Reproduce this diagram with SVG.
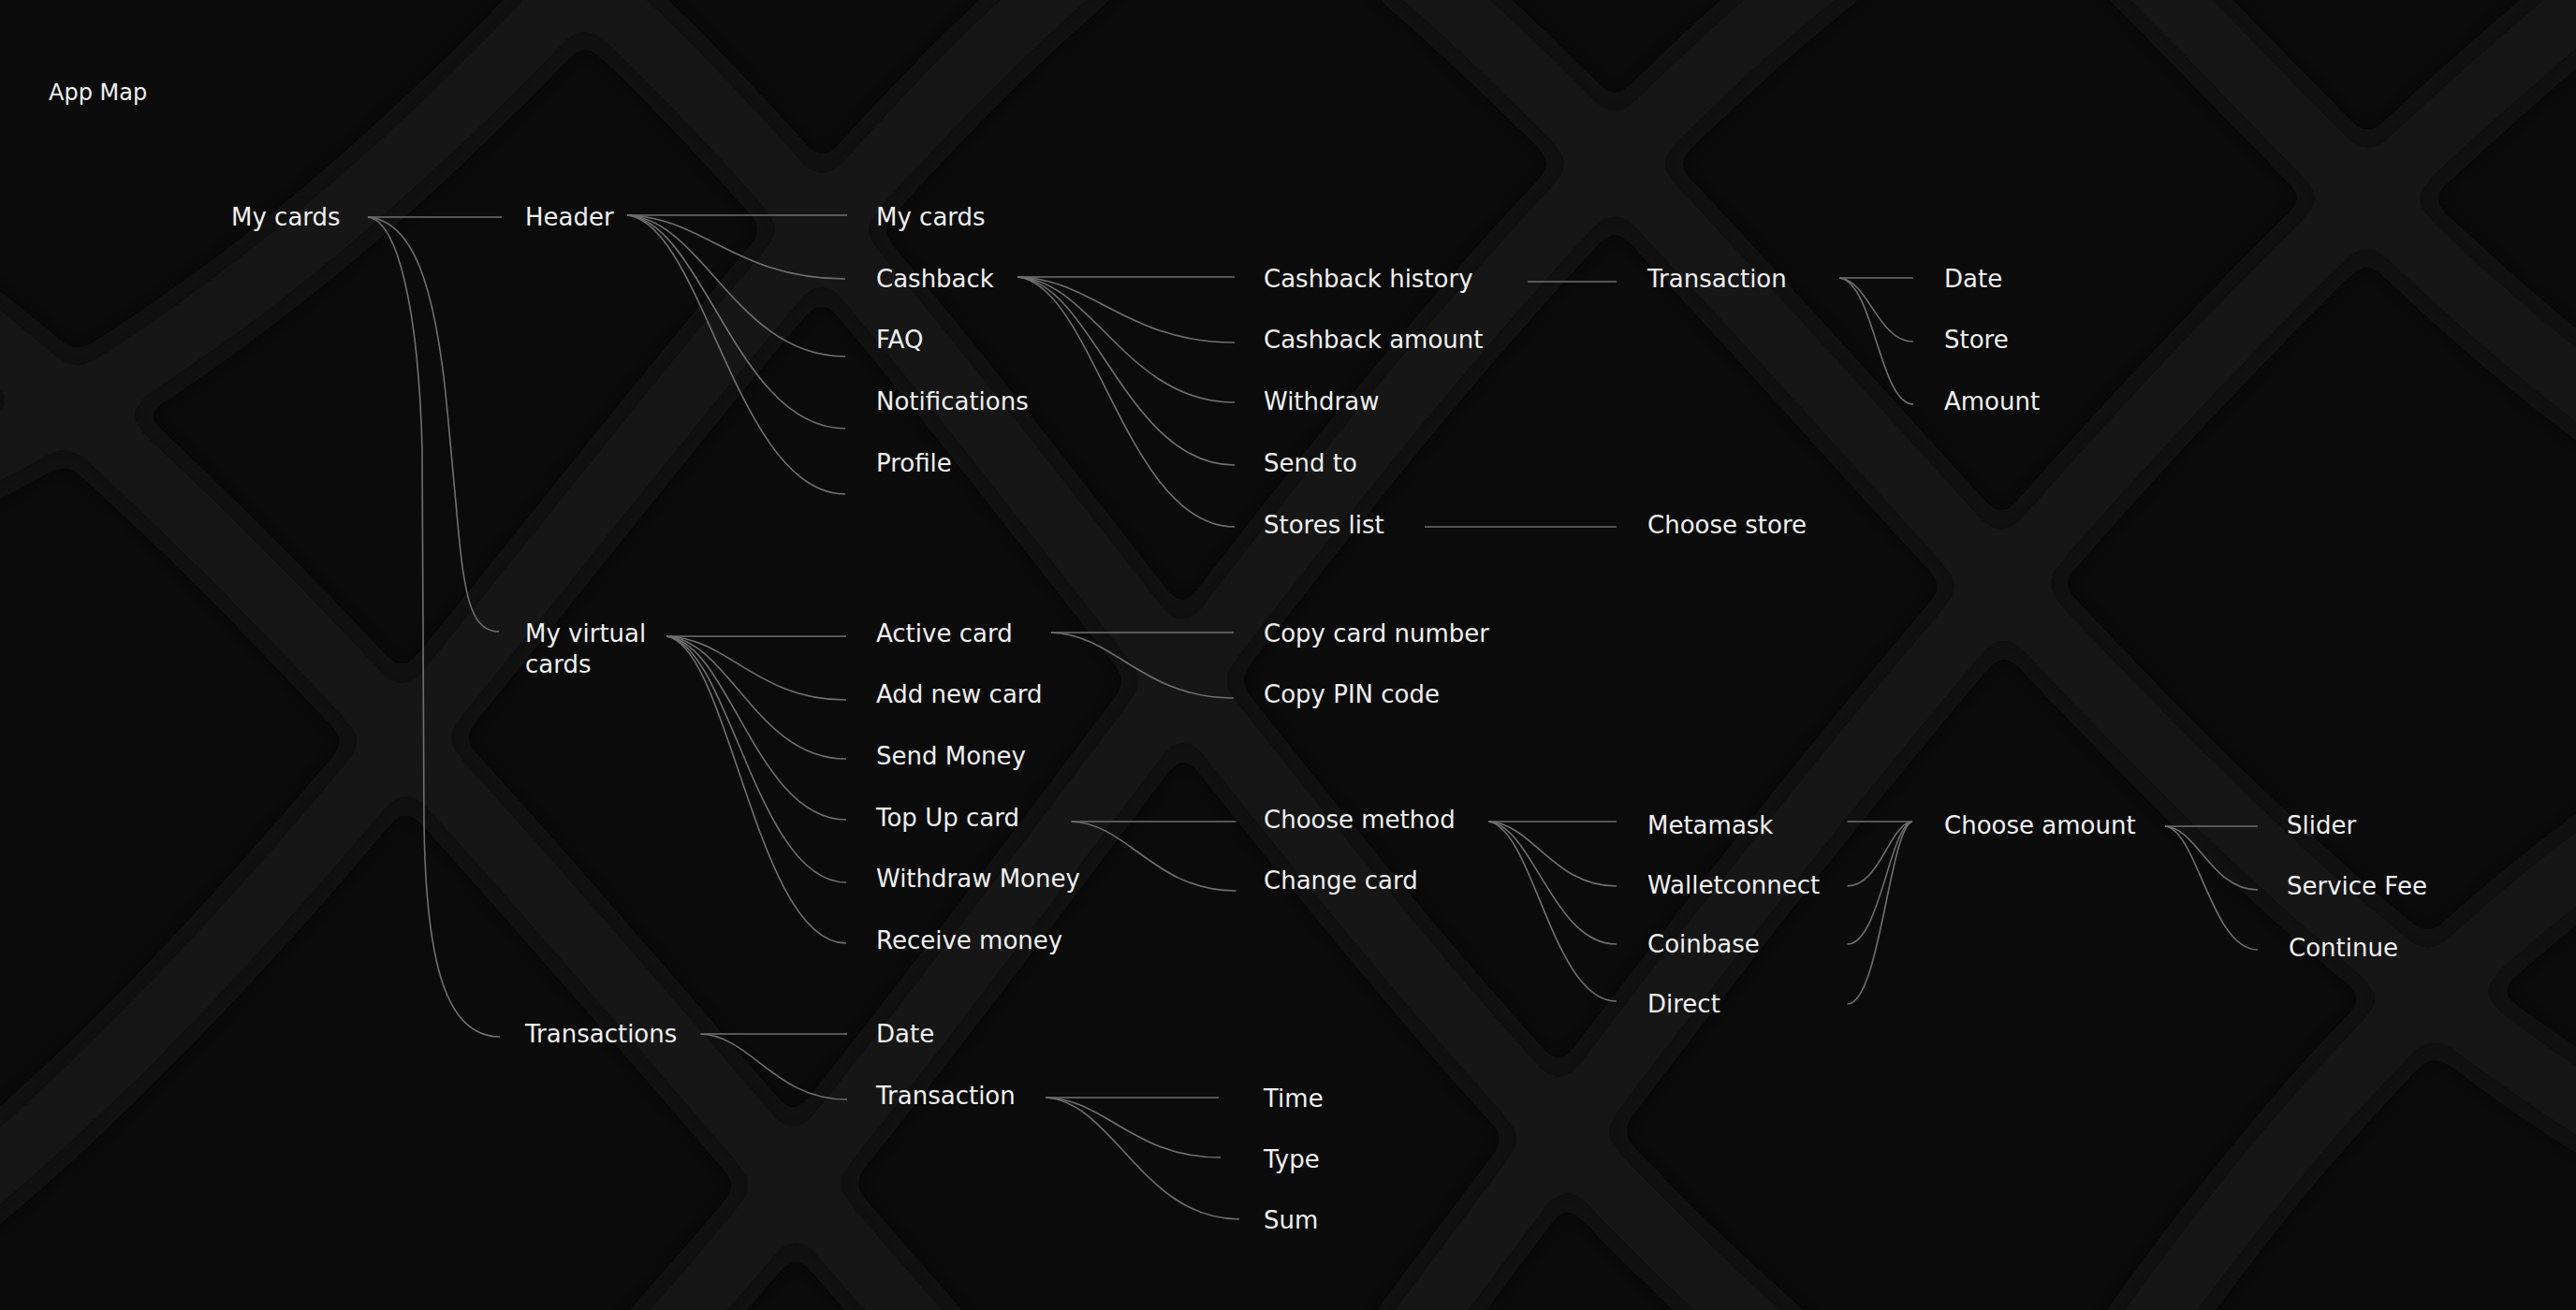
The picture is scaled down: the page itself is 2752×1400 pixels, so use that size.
<svg xmlns="http://www.w3.org/2000/svg" width="2752" height="1400" viewBox="0 0 2752 1400">
  <defs>
    <filter id="soft" x="-10%" y="-10%" width="120%" height="120%">
      <feGaussianBlur stdDeviation="14"/>
    </filter>
    <style>
      .lbl { font-family: "DejaVu Sans", "Liberation Sans", sans-serif; font-size: 26px; fill: #f0f0f0; }
      .title { font-family: "DejaVu Sans", "Liberation Sans", sans-serif; font-size: 24px; fill: #f0f0f0; }
      .c { fill: none; stroke: #707070; stroke-width: 1.6; }
      .rib { fill: none; stroke: #171717; stroke-width: 78; stroke-linecap: round; }
    </style>
  </defs>

  <rect width="2752" height="1400" fill="#0b0b0b"/>
  <g id="background" filter="url(#soft)">
    <path class="rib" d="M -40 500 C 200 380 420 200 640 -40"/>
    <path class="rib" d="M -40 1280 C 420 900 760 300 1160 -40"/>
    <path class="rib" d="M 700 1440 C 1100 1000 1500 320 1960 -40"/>
    <path class="rib" d="M 1500 1440 C 1900 900 2300 380 2790 -20"/>
    <path class="rib" d="M 2280 1440 C 2450 1200 2600 1040 2790 900"/>
    <path class="rib" d="M 600 -40 C 1000 300 1400 1000 1900 1440"/>
    <path class="rib" d="M -40 340 C 300 600 700 1100 1000 1440"/>
    <path class="rib" d="M 1500 -40 C 1900 300 2300 900 2790 1200"/>
    <path class="rib" d="M 2280 -40 C 2440 120 2600 300 2790 440"/>
  </g>

  <g id="title"><text class="title" x="52" y="107">App Map</text></g>

  <g id="connectors">
    <path class="c" d="M 393 232 H 536"/>
    <path class="c" d="M 393 232 C 440 236 465 300 478 440 L 490 570 C 497 648 507 675 533 675"/>
    <path class="c" d="M 393 232 C 425 236 447 330 451 480 L 453 880 C 455 1040 480 1108 534 1108"/>
    <path class="c" d="M 670 230 H 905"/>
    <path class="c" d="M 670 230 C 751.6 232 786.5 298 903 298"/>
    <path class="c" d="M 670 230 C 751.6 234.5 786.5 381 903 381"/>
    <path class="c" d="M 670 230 C 751.6 236.8 786.5 458 903 458"/>
    <path class="c" d="M 670 230 C 751.6 238.9 786.5 528 903 528"/>
    <path class="c" d="M 1087 296 H 1319"/>
    <path class="c" d="M 1087 296 C 1168.2 298.1 1203 366 1319 366"/>
    <path class="c" d="M 1087 296 C 1168.2 300 1203 430 1319 430"/>
    <path class="c" d="M 1087 296 C 1168.2 302 1203 497 1319 497"/>
    <path class="c" d="M 1087 296 C 1168.2 304 1203 563 1319 563"/>
    <path class="c" d="M 1632 301 H 1727"/>
    <path class="c" d="M 1522 563 H 1727"/>
    <path class="c" d="M 1965 297 H 2044"/>
    <path class="c" d="M 1965 297 C 1996 299 2006 365 2044 365"/>
    <path class="c" d="M 1965 297 C 2002 301 2008 432 2044 432"/>
    <path class="c" d="M 712 680 H 904"/>
    <path class="c" d="M 712 680 C 779 682 807.8 748 904 748"/>
    <path class="c" d="M 712 680 C 779 684 807.8 811 904 811"/>
    <path class="c" d="M 712 680 C 779 686 807.8 876 904 876"/>
    <path class="c" d="M 712 680 C 779 688 807.8 943 904 943"/>
    <path class="c" d="M 712 680 C 779 690 807.8 1008 904 1008"/>
    <path class="c" d="M 1123 676 H 1318"/>
    <path class="c" d="M 1123 676 C 1191 678 1220.5 746 1318 746"/>
    <path class="c" d="M 1144.5 878 H 1320.5"/>
    <path class="c" d="M 1144.5 878 C 1206 880 1232.5 952 1320.5 952"/>
    <path class="c" d="M 1590 878 H 1727"/>
    <path class="c" d="M 1590 878 C 1638 880 1658.5 947 1727 947"/>
    <path class="c" d="M 1590 878 C 1638 882 1658.5 1009 1727 1009"/>
    <path class="c" d="M 1590 878 C 1638 884 1658.5 1070 1727 1070"/>
    <path class="c" d="M 1973.5 878 H 2043"/>
    <path class="c" d="M 2043 878 C 2018.7 880 2008.3 947 1973.5 947"/>
    <path class="c" d="M 2043 878 C 2018.7 882 2008.3 1009 1973.5 1009"/>
    <path class="c" d="M 2043 878 C 2018.7 884 2008.3 1073 1973.5 1073"/>
    <path class="c" d="M 2313 883 H 2412"/>
    <path class="c" d="M 2313 883 C 2347.7 885 2362.5 951 2412 951"/>
    <path class="c" d="M 2313 883 C 2347.7 887 2362.5 1015 2412 1015"/>
    <path class="c" d="M 748.5 1105 H 905"/>
    <path class="c" d="M 748.5 1105 C 803.3 1107 826.8 1175 905 1175"/>
    <path class="c" d="M 1117 1173 H 1302"/>
    <path class="c" d="M 1117 1173 C 1182.5 1175 1210.5 1237 1304 1237"/>
    <path class="c" d="M 1117 1173 C 1189.5 1177 1220.5 1303 1324 1303"/>
  </g>

  <g id="n-mycards-root"><text class="lbl" x="247" y="241">My cards</text></g>
  <g id="n-header"><text class="lbl" x="561" y="241">Header</text></g>
  <g id="n-virtual"><text class="lbl" x="561" y="686">My virtual</text><text class="lbl" x="561" y="719">cards</text></g>
  <g id="n-transactions"><text class="lbl" x="561" y="1114">Transactions</text></g>

  <g id="n-h-mycards"><text class="lbl" x="936" y="241">My cards</text></g>
  <g id="n-cashback"><text class="lbl" x="936" y="307">Cashback</text></g>
  <g id="n-faq"><text class="lbl" x="936" y="372">FAQ</text></g>
  <g id="n-notifications"><text class="lbl" x="936" y="438">Notifications</text></g>
  <g id="n-profile"><text class="lbl" x="936" y="504">Profile</text></g>

  <g id="n-cb-history"><text class="lbl" x="1350" y="307">Cashback history</text></g>
  <g id="n-cb-amount"><text class="lbl" x="1350" y="372">Cashback amount</text></g>
  <g id="n-cb-withdraw"><text class="lbl" x="1350" y="438">Withdraw</text></g>
  <g id="n-cb-sendto"><text class="lbl" x="1350" y="504">Send to</text></g>
  <g id="n-cb-stores"><text class="lbl" x="1350" y="570">Stores list</text></g>

  <g id="n-cb-transaction"><text class="lbl" x="1760" y="307">Transaction</text></g>
  <g id="n-choose-store"><text class="lbl" x="1760" y="570">Choose store</text></g>
  <g id="n-cbt-date"><text class="lbl" x="2077" y="307">Date</text></g>
  <g id="n-cbt-store"><text class="lbl" x="2077" y="372">Store</text></g>
  <g id="n-cbt-amount"><text class="lbl" x="2077" y="438">Amount</text></g>

  <g id="n-active-card"><text class="lbl" x="936" y="686">Active card</text></g>
  <g id="n-add-card"><text class="lbl" x="936" y="751">Add new card</text></g>
  <g id="n-send-money"><text class="lbl" x="936" y="817">Send Money</text></g>
  <g id="n-topup"><text class="lbl" x="936" y="883">Top Up card</text></g>
  <g id="n-withdraw-money"><text class="lbl" x="936" y="948">Withdraw Money</text></g>
  <g id="n-receive-money"><text class="lbl" x="936" y="1014">Receive money</text></g>

  <g id="n-copy-number"><text class="lbl" x="1350" y="686">Copy card number</text></g>
  <g id="n-copy-pin"><text class="lbl" x="1350" y="751">Copy PIN code</text></g>
  <g id="n-choose-method"><text class="lbl" x="1350" y="885">Choose method</text></g>
  <g id="n-change-card"><text class="lbl" x="1350" y="950">Change card</text></g>

  <g id="n-metamask"><text class="lbl" x="1760" y="891">Metamask</text></g>
  <g id="n-walletconnect"><text class="lbl" x="1760" y="955">Walletconnect</text></g>
  <g id="n-coinbase"><text class="lbl" x="1760" y="1018">Coinbase</text></g>
  <g id="n-direct"><text class="lbl" x="1760" y="1082">Direct</text></g>

  <g id="n-choose-amount"><text class="lbl" x="2077" y="891">Choose amount</text></g>
  <g id="n-slider"><text class="lbl" x="2443" y="891">Slider</text></g>
  <g id="n-service-fee"><text class="lbl" x="2443" y="956">Service Fee</text></g>
  <g id="n-continue"><text class="lbl" x="2445" y="1022">Continue</text></g>

  <g id="n-tr-date"><text class="lbl" x="936" y="1114">Date</text></g>
  <g id="n-tr-transaction"><text class="lbl" x="936" y="1180">Transaction</text></g>
  <g id="n-time"><text class="lbl" x="1350" y="1183">Time</text></g>
  <g id="n-type"><text class="lbl" x="1350" y="1248">Type</text></g>
  <g id="n-sum"><text class="lbl" x="1350" y="1313">Sum</text></g>
</svg>
